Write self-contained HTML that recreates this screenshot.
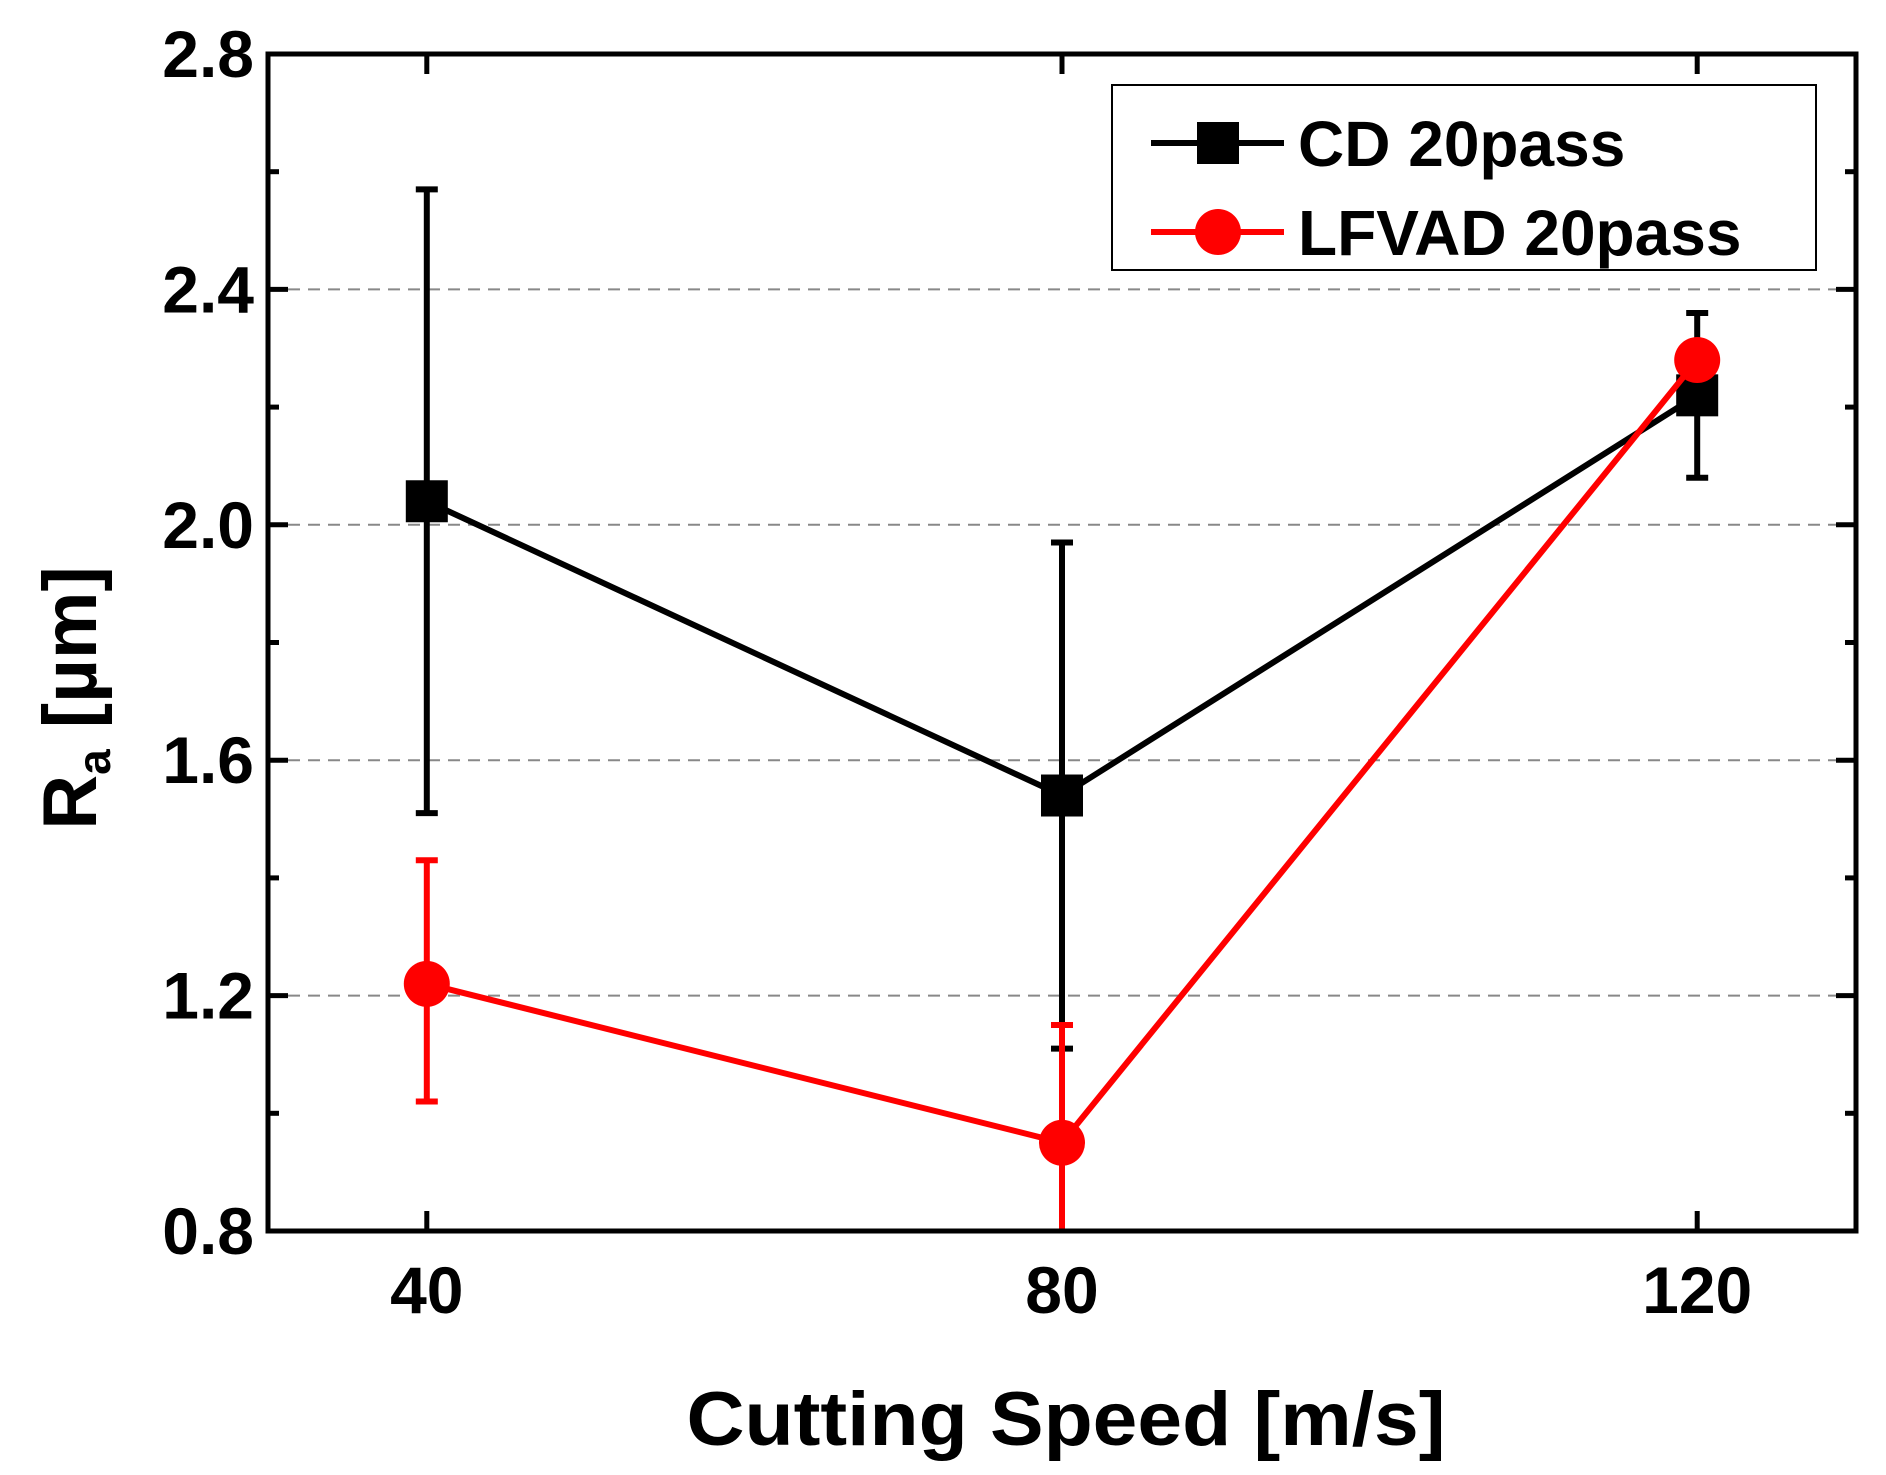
<!DOCTYPE html>
<html><head><meta charset="utf-8"><style>
html,body{margin:0;padding:0;background:#fff;}
svg{display:block;font-family:"Liberation Sans",Arial,sans-serif;font-weight:bold;}
</style></head><body>
<svg id="chart" width="1886" height="1475" viewBox="0 0 1886 1475" xmlns="http://www.w3.org/2000/svg"></svg>
<script>
const xCategories = [40, 80, 120];
const cdValues = [2.04, 1.54, 2.22];
const cdErrLow = [1.51, 1.11, 2.08];
const cdErrHigh = [2.57, 1.97, 2.36];
const lfValues = [1.22, 0.95, 2.28];
const lfErrLow = [1.02, 0.76, 2.26];
const lfErrHigh = [1.43, 1.15, 2.30];
const yTicks = [0.8, 1.2, 1.6, 2.0, 2.4, 2.8];
const yTickLabels = ["0.8", "1.2", "1.6", "2.0", "2.4", "2.8"];
const gridValues = [1.2, 1.6, 2.0, 2.4];
const xTickLabels = ["40", "80", "120"];

const L=268,R=1856,T=54,B=1231;
const xMin=30,xMax=130,yMin=0.8,yMax=2.8;
const xs=v=>L+(v-xMin)/(xMax-xMin)*(R-L);
const ys=v=>B-(v-yMin)/(yMax-yMin)*(B-T);
const svg=document.getElementById('chart');
const NS='http://www.w3.org/2000/svg';
function mk(tag,attrs,parent){const e=document.createElementNS(NS,tag);for(const k in attrs)e.setAttribute(k,attrs[k]);(parent||svg).appendChild(e);return e;}

const defs=mk('defs',{});
const cp=mk('clipPath',{id:'pc'},defs);
mk('rect',{x:L,y:T,width:R-L,height:B-T},cp);

gridValues.forEach(g=>{
  const l=mk('line',{x1:L,x2:R,y1:ys(g),y2:ys(g),stroke:'#888','stroke-width':2,'stroke-dasharray':'12,8'});
  
  
});

for(let v=0.8;v<=2.801;v+=0.2){
  const major=Math.abs((v-0.8)/0.4-Math.round((v-0.8)/0.4))<0.01;
  const len=major?20:11;
  const t1=mk('line',{x1:L,x2:L+len,y1:ys(v),y2:ys(v),stroke:'#000','stroke-width':5});
  
  
  const t2=mk('line',{x1:R,x2:R-len,y1:ys(v),y2:ys(v),stroke:'#000','stroke-width':5});
  
  
}
xCategories.forEach(c=>{
  const t1=mk('line',{x1:xs(c),x2:xs(c),y1:B,y2:B-20,stroke:'#000','stroke-width':5});
  
  
  const t2=mk('line',{x1:xs(c),x2:xs(c),y1:T,y2:T+20,stroke:'#000','stroke-width':5});
  
  
});

yTicks.forEach((v,i)=>{
  const t=mk('text',{x:L-14,y:ys(v)+23,'text-anchor':'end','font-size':66,fill:'#000'});
  t.textContent=yTickLabels[i];
  
  
});
xCategories.forEach((c,i)=>{
  const t=mk('text',{x:xs(c),y:B+82,'text-anchor':'middle','font-size':66,fill:'#000'});
  t.textContent=xTickLabels[i];
  
  
});

const xt=mk('text',{x:1066,y:1445,'text-anchor':'middle','font-size':76,fill:'#000',textLength:759,lengthAdjust:'spacingAndGlyphs'});
xt.textContent='Cutting Speed [m/s]';


const yt=mk('text',{transform:'translate(96,698) rotate(-90)','text-anchor':'middle','font-size':76,fill:'#000'});
yt.innerHTML='R<tspan font-size="46" dy="14">a</tspan><tspan dy="-14"> [µm]</tspan>';



function series(vals,lo,hi,color,marker,name){
  const g=mk('g',{'clip-path':'url(#pc)'});
  
  
  xCategories.forEach((c,i)=>{
    const x=xs(c);
    const e=mk('line',{x1:x,x2:x,y1:ys(lo[i]),y2:ys(hi[i]),stroke:color,'stroke-width':6},g);
    
    
    [lo[i],hi[i]].forEach(v=>{
      const cap=mk('line',{x1:x-11,x2:x+11,y1:ys(v),y2:ys(v),stroke:color,'stroke-width':6},g);
      
      
    });
  });
  const pl=mk('polyline',{points:xCategories.map((c,i)=>xs(c)+','+ys(vals[i])).join(' '),fill:'none',stroke:color,'stroke-width':6},g);
  
  
  xCategories.forEach((c,i)=>{
    let m;
    if(marker==='square') m=mk('rect',{x:xs(c)-21,y:ys(vals[i])-21,width:42,height:42,fill:color},g);
    else m=mk('circle',{cx:xs(c),cy:ys(vals[i]),r:23,fill:color},g);
    
    
  });
}
series(cdValues,cdErrLow,cdErrHigh,'#000','square','cd-20pass');
series(lfValues,lfErrLow,lfErrHigh,'#f00','circle','lfvad-20pass');

const fr=mk('rect',{x:L,y:T,width:R-L,height:B-T,fill:'none',stroke:'#000','stroke-width':5});



const lg=mk('g',{});


mk('rect',{x:1112,y:85,width:704,height:185,fill:'#fff',stroke:'#000','stroke-width':2},lg);
const entries=[['CD 20pass','#000','square',143],['LFVAD 20pass','#f00','circle',232]];
entries.forEach(en=>{
  const ge=mk('g',{},lg);
  
  
  mk('line',{x1:1151,x2:1284,y1:en[3],y2:en[3],stroke:en[1],'stroke-width':6},ge);
  if(en[2]==='square') mk('rect',{x:1197,y:en[3]-21,width:42,height:42,fill:en[1]},ge);
  else mk('circle',{cx:1218,cy:en[3],r:23,fill:en[1]},ge);
  const t=mk('text',{x:1298,y:en[3]+23,'font-size':64,fill:'#000'},ge);
  t.textContent=en[0];
});
</script>
</body></html>
